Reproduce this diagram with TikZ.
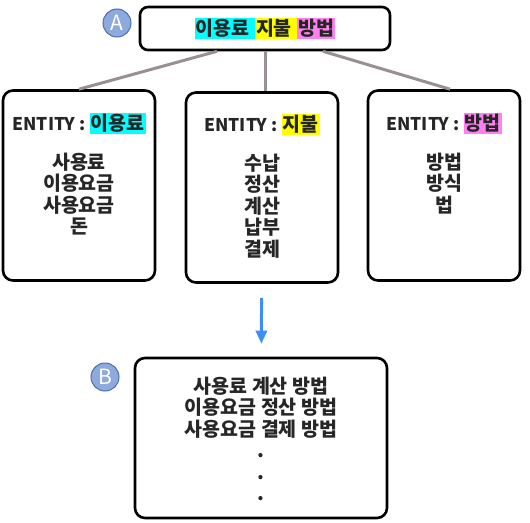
\documentclass[tikz,border=0pt]{standalone}
\usepackage{fontspec}
\setmainfont{Noto Sans CJK KR}
\usepackage{xcolor}
\usepackage{tikz}
\usetikzlibrary{arrows.meta}
\usetikzlibrary{positioning}
\definecolor{hlCyan}{HTML}{00FFFF}
\definecolor{hlYellow}{HTML}{FFFF00}
\definecolor{hlPink}{HTML}{FF80F0}
\definecolor{textGray}{HTML}{262626}
\definecolor{linkGray}{HTML}{9A9094}
\definecolor{arrowBlue}{HTML}{3D8EF5}
\definecolor{badgeFill}{HTML}{8EA9DB}
\definecolor{badgeEdge}{HTML}{4A6FB5}
\newcommand{\hlText}[2]{{\setlength{\fboxsep}{1pt}\colorbox{#1}{#2}}}
\newcommand{\entityHead}{{\fontsize{17.5}{21.5}\selectfont ENTITY : }}
\tikzstyle{titleBox} = [draw=black, line width=2.6pt, rounded corners=8pt, minimum width=250pt, minimum height=43pt, inner sep=0pt]
\tikzstyle{entityBox} = [draw=black, line width=2.6pt, rounded corners=10pt, minimum width=152pt, minimum height=190pt]
\tikzstyle{resultBox} = [draw=black, line width=2.6pt, rounded corners=10pt, minimum width=252pt, minimum height=160pt]
\tikzstyle{boxText} = [inner sep=0pt, align=center, text=textGray, font=\bfseries\fontsize{19.5}{21.5}\selectfont]
\tikzstyle{badge} = [circle, draw=badgeEdge, fill=badgeFill, line width=1pt, minimum size=28pt, inner sep=0pt, text=white, font=\fontsize{21}{21}\selectfont]
\tikzstyle{link} = [draw=linkGray, line width=3pt]
\tikzstyle{arrow} = [draw=arrowBlue, line width=3pt, -{Triangle[width=11pt,length=13pt]}]

\begin{document}
\begin{tikzpicture}[x=1pt, y=-1pt, node distance=157pt]
    \useasboundingbox (0,0) rectangle (530,522);
    \node (top) [titleBox, boxText] at (265,28.5) {\hlText{hlCyan}{이용료 }\hlText{hlYellow}{지불 }\hlText{hlPink}{방법}};
    \node (badgeA) [badge] at (117,23) {A};
    \node (ent1) [entityBox, below of=top, xshift=-186pt] {};
    \node (ent2) [entityBox, below of=top, xshift=-3pt, yshift=-2pt] {};
    \node (ent3) [entityBox, below of=top, xshift=179pt] {};
    \node (ent1txt) [boxText, below=24pt of ent1.north] {\entityHead\hlText{hlCyan}{이용료}\\[17pt]사용료\\이용요금\\사용요금\\돈};
    \node (ent2txt) [boxText, below=23pt of ent2.north] {\entityHead\hlText{hlYellow}{지불}\\[17pt]수납\\정산\\계산\\납부\\결제};
    \node (ent3txt) [boxText, below=24pt of ent3.north] {\entityHead\hlText{hlPink}{방법}\\[17pt]방법\\방식\\법};
    \draw [link] ([xshift=-48pt]top.south) -- (ent1.north);
    \draw [link] (top.south) -- (top.south |- ent2.north);
    \draw [link] ([xshift=58pt]top.south) -- ([xshift=6pt]ent3.north);
    \node (result) [resultBox] at (261,438) {};
    \node (badgeB) [badge] at (105,377) {B};
    \node (resulttxt) [boxText, below=20pt of result.north] {사용료 계산 방법\\이용요금 정산 방법\\사용요금 결제 방법\\.\\.\\.};
    \draw [arrow, shorten <=14pt, shorten >=13pt] (ent2) -- (result);
\end{tikzpicture}
\end{document}
